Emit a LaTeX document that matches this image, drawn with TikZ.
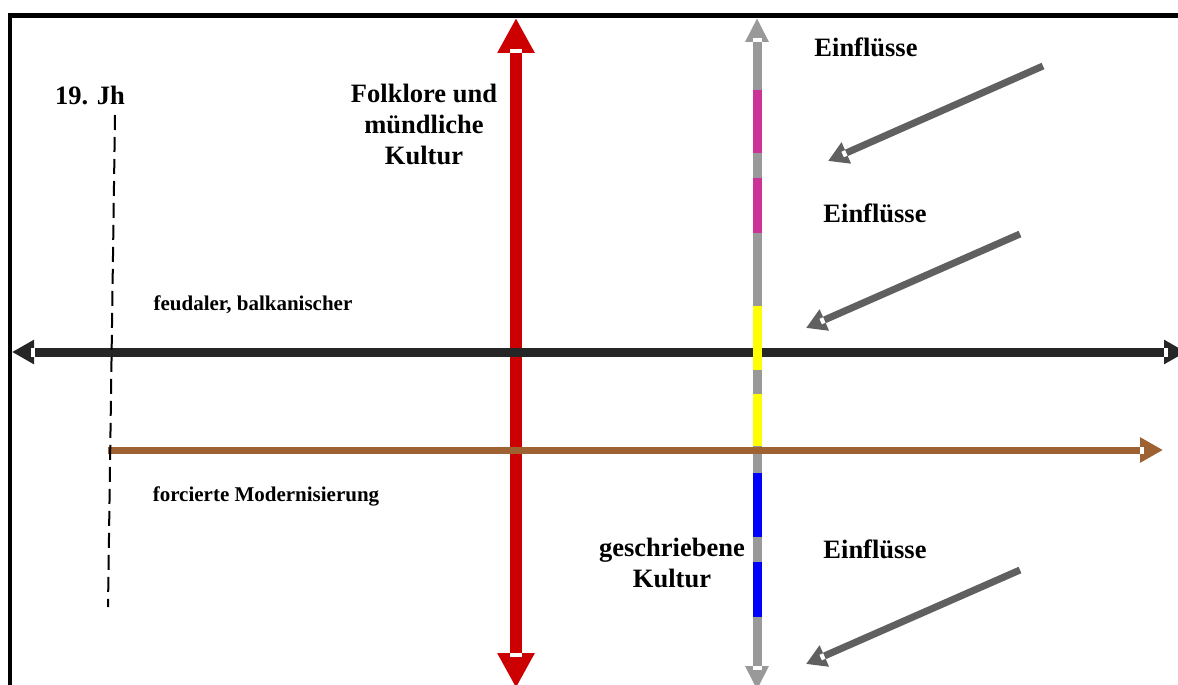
\documentclass[tikz,border=0pt]{standalone}
\usepackage{fontspec}
\setmainfont{Liberation Serif}
\usetikzlibrary{arrows.meta,calc}
\definecolor{axisred}{RGB}{204,0,0}
\definecolor{axisgray}{RGB}{153,153,153}
\definecolor{axisblack}{RGB}{38,38,38}
\definecolor{axisbrown}{RGB}{158,98,50}
\definecolor{inflgray}{RGB}{96,96,96}
\definecolor{segmagenta}{RGB}{204,51,153}
\definecolor{segyellow}{RGB}{255,255,0}
\definecolor{segblue}{RGB}{0,0,255}
% white notch just behind an arrow head: tip, start, head length, shaft width
\newcommand\headnotch[4]{%
  \draw[white,line width=#4] ($(#1)!#3-4pt!(#2)$) -- ($(#1)!#3!(#2)$);}
\begin{document}
\begin{tikzpicture}[x=1pt,y=-1pt,
  bigtext/.style={font=\fontsize{26.5}{31}\selectfont\bfseries,align=center,inner sep=0pt},
  smalltext/.style={font=\fontsize{21}{24}\selectfont\bfseries,inner sep=0pt},
  segment/.style={line width=9pt,line cap=butt},
  influence/.style={inflgray,line width=7pt,-{Triangle[length=20pt,width=22pt]}}]
\useasboundingbox (0,0) rectangle (1178,685);
\clip (0,0) rectangle (1178,685);

% end points of the axes
\coordinate (redtop) at (516,18);
\coordinate (redbot) at (516,688);
\coordinate (graytop) at (757,18);
\coordinate (graybot) at (757,690);
\coordinate (blackleft) at (12,352);
\coordinate (blackright) at (1186,352);
\coordinate (brownstart) at (108,450);
\coordinate (brownend) at (1163,450);

% frame
\draw[line width=4.5pt] (10,700) -- (10,15.3) -- (1190,15.3);

% folklore axis
\draw[axisred,line width=12pt,{Triangle[length=35pt,width=35pt]}-{Triangle[length=35pt,width=35pt]}] (redtop) -- (redbot);
\headnotch{redtop}{redbot}{35pt}{12pt}
\headnotch{redbot}{redtop}{35pt}{12pt}

% feudal axis
\draw[axisblack,line width=9pt,{Triangle[length=22pt,width=23pt]}-{Triangle[length=22pt,width=23pt]}] (blackleft) -- (blackright);
\headnotch{blackleft}{blackright}{23pt}{9pt}
\headnotch{blackright}{blackleft}{22pt}{9pt}

% written culture axis with coloured sections
\draw[axisgray,line width=9pt,{Triangle[length=24pt,width=22pt]}-{Triangle[length=24pt,width=22pt]}] (graytop) -- (graybot);
\headnotch{graytop}{graybot}{24pt}{9pt}
\headnotch{graybot}{graytop}{24pt}{9pt}
\draw[segment,segmagenta] (757,90) -- (757,153);
\draw[segment,segmagenta] (757,178) -- (757,233);
\draw[segment,segyellow] (757,306) -- (757,370);
\draw[segment,segyellow] (757,394) -- (757,446);
\draw[segment,segblue] (757,473) -- (757,537);
\draw[segment,segblue] (757,562) -- (757,617);

% modernisation axis
\draw[axisbrown,line width=7pt,-{Triangle[length=23pt,width=24pt]}] (brownstart) -- (brownend);
\headnotch{brownend}{brownstart}{23pt}{7pt}

% 19th century marker
\coordinate (jhtop) at (115,115);
\coordinate (jhbot) at (108,607);
\draw[line width=2pt,dash pattern=on 15pt off 7pt] (jhtop) -- (jhbot);

% influences
\coordinate (in1s) at (1043,66);  \coordinate (in1t) at (828,161);
\coordinate (in2s) at (1020,234); \coordinate (in2t) at (806,328);
\coordinate (in3s) at (1020,570); \coordinate (in3t) at (806,664);
\draw[influence] (in1s) -- (in1t);
\draw[influence] (in2s) -- (in2t);
\draw[influence] (in3s) -- (in3t);
\headnotch{in1t}{in1s}{20pt}{6pt}
\headnotch{in2t}{in2s}{20pt}{6pt}
\headnotch{in3t}{in3s}{20pt}{6pt}

% labels
\node[bigtext] (jh) at (90,95) {19. Jh};
\node[bigtext] (folk) at (424,124) {Folklore und\\mündliche\\Kultur};
\node[bigtext] (written) at (672,563) {geschriebene\\Kultur};
\node[bigtext] (einfl1) at (866,47) {Einflüsse};
\node[bigtext] (einfl2) at (875,213) {Einflüsse};
\node[bigtext] (einfl3) at (875,549) {Einflüsse};
\node[smalltext] (feudal) at (253,305) {feudaler, balkanischer};
\node[smalltext] (modern) at (266,496) {forcierte Modernisierung};
\end{tikzpicture}
\end{document}
